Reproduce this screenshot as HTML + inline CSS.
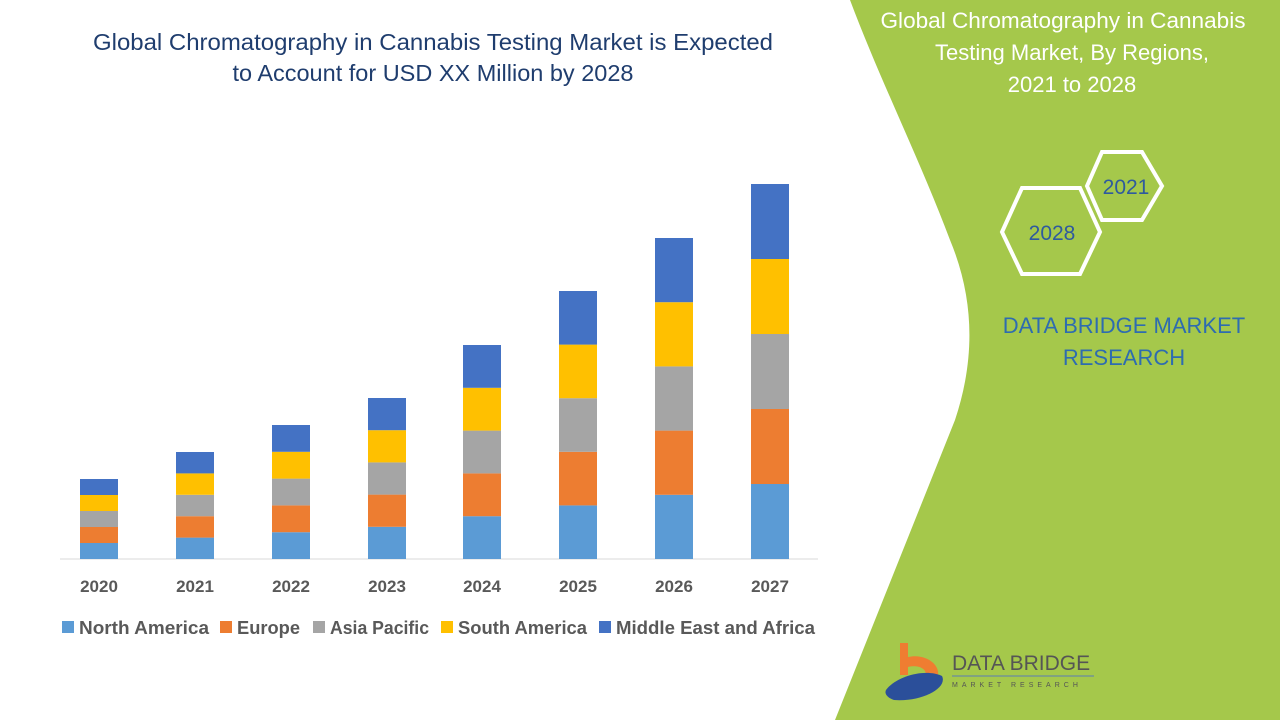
<!DOCTYPE html>
<html><head><meta charset="utf-8"><style>
body{margin:0;width:1280px;height:720px;overflow:hidden;background:#fff;font-family:"Liberation Sans",sans-serif;position:relative}
</style></head><body>
<svg width="1280" height="720" style="position:absolute;left:0;top:0">
<path d="M850,0 L1280,0 L1280,720 L835,720 L955,420 C975,360 975,300 950,240 C920,160 880,80 850,0Z" fill="#a5c84b"/>
<g font-family="Liberation Sans, sans-serif">
<text x="433" y="50" text-anchor="middle" font-size="23.5" fill="#1f3d6e" textLength="680" lengthAdjust="spacingAndGlyphs">Global Chromatography in Cannabis Testing Market is Expected</text>
<text x="433" y="81" text-anchor="middle" font-size="23.5" fill="#1f3d6e">to Account for USD XX Million by 2028</text>
<text x="1063" y="28" text-anchor="middle" font-size="22" fill="#fff" textLength="365" lengthAdjust="spacingAndGlyphs">Global Chromatography in Cannabis</text>
<text x="1072" y="60" text-anchor="middle" font-size="22" fill="#fff">Testing Market, By Regions,</text>
<text x="1072" y="92" text-anchor="middle" font-size="22" fill="#fff">2021 to 2028</text>
<polygon points="1102,152 1142,152 1162,186 1142,220 1102,220 1087,186" fill="none" stroke="#fff" stroke-width="4"/>
<polygon points="1022,188 1080,188 1100,232 1080,274 1022,274 1002,232" fill="none" stroke="#fff" stroke-width="4"/>
<text x="1126" y="194" text-anchor="middle" font-size="21" fill="#2e5a9e">2021</text>
<text x="1052" y="240" text-anchor="middle" font-size="21" fill="#2e5a9e">2028</text>
<text x="1124" y="333" text-anchor="middle" font-size="22" fill="#2e6cb0">DATA BRIDGE MARKET</text>
<text x="1124" y="365" text-anchor="middle" font-size="22" fill="#2e6cb0">RESEARCH</text>
<path d="M900,643 h8 v14 c18,-4 32,8 30,18 l-12,0 c0,-8 -10,-10 -18,-8 v8 h-8z" fill="#ef7d31"/>
<path d="M886,690 c10,-14 40,-22 56,-14 c6,12 -20,26 -48,24 c-6,-2 -10,-6 -8,-10z" fill="#2b4f9a"/>
<text x="952" y="670" font-size="21" fill="#555">DATA BRIDGE</text>
<line x1="952" y1="676" x2="1094" y2="676" stroke="#5a7bb5" stroke-width="1"/>
<text x="952" y="687" font-size="7" fill="#555" letter-spacing="4">MARKET RESEARCH</text>
<line x1="60" y1="559" x2="818" y2="559" stroke="#d9d9d9"/>
</g>
<g id="bars"></g>
<g font-family="Liberation Sans, sans-serif" font-size="17" font-weight="bold" fill="#595959" text-anchor="middle">
<text x="99" y="592">2020</text><text x="195" y="592">2021</text><text x="291" y="592">2022</text><text x="387" y="592">2023</text><text x="482" y="592">2024</text><text x="578" y="592">2025</text><text x="674" y="592">2026</text><text x="770" y="592">2027</text>
</g>
<g font-family="Liberation Sans, sans-serif" font-size="18" font-weight="bold" fill="#595959">
<rect x="62" y="621" width="12" height="12" fill="#5b9bd5"/><text x="79" y="634" textLength="130" lengthAdjust="spacingAndGlyphs">North America</text>
<rect x="220" y="621" width="12" height="12" fill="#ed7d31"/><text x="237" y="634" textLength="63" lengthAdjust="spacingAndGlyphs">Europe</text>
<rect x="313" y="621" width="12" height="12" fill="#a5a5a5"/><text x="330" y="634" textLength="99" lengthAdjust="spacingAndGlyphs">Asia Pacific</text>
<rect x="441" y="621" width="12" height="12" fill="#ffc000"/><text x="458" y="634" textLength="129" lengthAdjust="spacingAndGlyphs">South America</text>
<rect x="599" y="621" width="12" height="12" fill="#4472c4"/><text x="616" y="634" textLength="199" lengthAdjust="spacingAndGlyphs">Middle East and Africa</text>
</g>
</svg>
<script>
var xs=[99,195,291,387,482,578,674,770],tops=[479,452,425,398,345,291,238,184],cols=["#5b9bd5","#ed7d31","#a5a5a5","#ffc000","#4472c4"];
var g=document.getElementById("bars"),s="";
xs.forEach(function(x,i){var h=(559-tops[i])/5;for(var k=0;k<5;k++){s+='<rect x="'+(x-19)+'" y="'+(559-h*(k+1))+'" width="38" height="'+h+'" fill="'+cols[k]+'"/>';}});
g.innerHTML=s;
</script>
</body></html>
